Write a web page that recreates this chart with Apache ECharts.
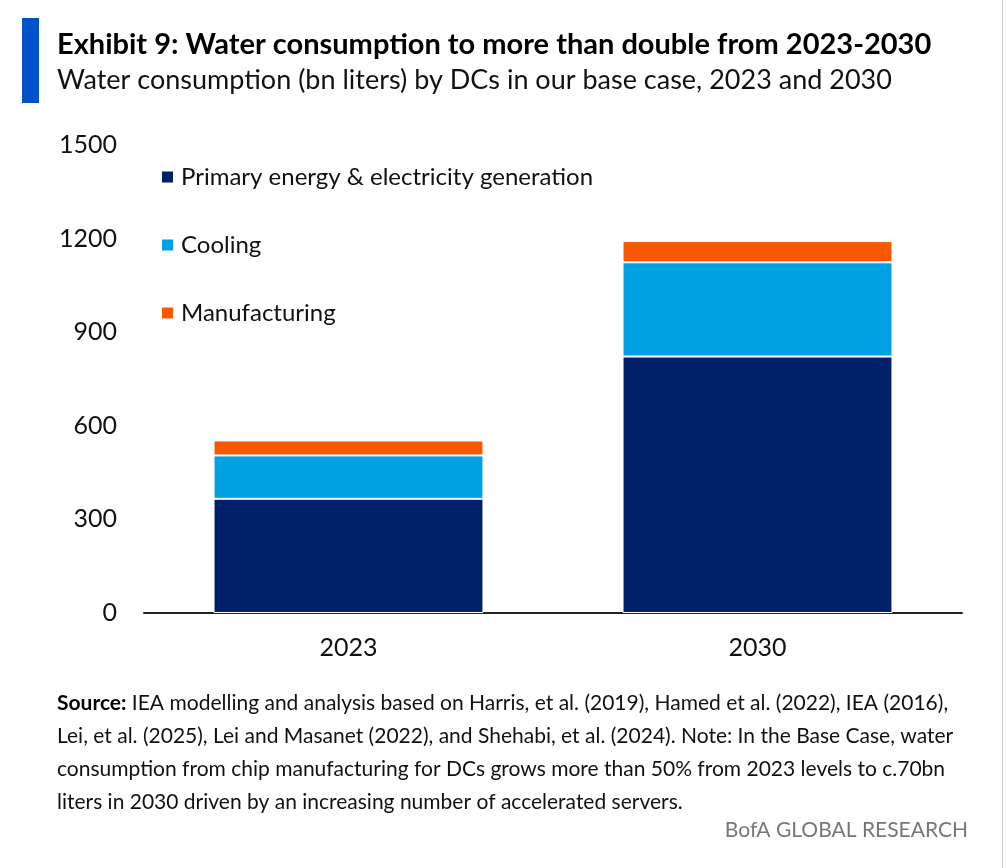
<!DOCTYPE html>
<html lang="en">
<head>
	<meta charset="UTF-8">
	<title>Exhibit 9</title>
	<style>
		html, body { margin: 0; padding: 0; background: #fff; }
		#main { width: 1006px; height: 868px; }
	</style>
</head>
<body>
	<div id="main"></div>
	<script src="https://cdn.jsdelivr.net/npm/echarts@6/dist/echarts.min.js"></script>
	<script>
		// values, bn liters
		var years = ['2023', '2030'];
		var primaryEnergy = [366, 822];
		var cooling = [139, 302];
		var manufacturing = [48, 68];
		var yTicks = { min: 0, max: 1500, interval: 300 };

		var FONT = "Lato, 'Liberation Sans', sans-serif";
		var NAVY = '#00216a', CYAN = '#00a0e3', ORANGE = '#f75800';

		var myChart = echarts.init(document.getElementById('main'));

		function bar(name, data, color) {
			return {
				name: name,
				type: 'bar',
				stack: 'water',
				data: data,
				barWidth: '66%',
				itemStyle: { color: color, borderColor: '#fff', borderWidth: 1 },
				emphasis: { disabled: true }
			};
		}

		var option = {
			backgroundColor: '#fff',
			animation: false,
			textStyle: { fontFamily: FONT },
			grid: { left: 144, right: 44, top: 145, bottom: 255 },
			legend: {
				orient: 'vertical',
				left: 155,
				top: 157,
				itemWidth: 13,
				itemHeight: 13,
				itemGap: 38,
				icon: 'rect',
				textStyle: { fontFamily: FONT, fontSize: 24, color: '#111', lineHeight: 30, padding: [0, 0, 0, 2] },
				data: ['Primary energy & electricity generation', 'Cooling', 'Manufacturing']
			},
			xAxis: {
				type: 'category',
				data: years,
				axisLine: { lineStyle: { color: '#222', width: 2 } },
				axisTick: { show: false },
				axisLabel: { fontFamily: FONT, fontSize: 25, color: '#111', margin: 22 }
			},
			yAxis: {
				type: 'value',
				min: yTicks.min,
				max: yTicks.max,
				interval: yTicks.interval,
				axisLine: { show: false },
				axisTick: { show: false },
				splitLine: { show: false },
				axisLabel: {
					fontFamily: FONT, fontSize: 25, color: '#111', margin: 27,
					formatter: function (v) { return String(v); }
				}
			},
			series: [
				bar('Primary energy & electricity generation', primaryEnergy, NAVY),
				bar('Cooling', cooling, CYAN),
				bar('Manufacturing', manufacturing, ORANGE)
			],
			graphic: [
				{ type: 'rect', left: 22, top: 18, shape: { width: 17, height: 85 }, style: { fill: '#0052cc' } },
				{
					type: 'text', left: 57, top: 30,
					style: { text: 'Exhibit 9: Water consumption to more than double from 2023-2030', fontFamily: FONT, fontSize: 29, fontWeight: 'bold', fill: '#000' }
				},
				{
					type: 'text', left: 57, top: 67,
					style: { text: 'Water consumption (bn liters) by DCs in our base case, 2023 and 2030', fontFamily: FONT, fontSize: 27, fill: '#111' }
				},
				{
					type: 'text', left: 57, top: 687,
					style: {
						text: '{b|Source:} IEA modelling and analysis based on Harris, et al. (2019), Hamed et al. (2022), IEA (2016),\n' +
							'Lei, et al. (2025), Lei and Masanet (2022), and Shehabi, et al. (2024). Note: In the Base Case, water\n' +
							'consumption from chip manufacturing for DCs grows more than 50% from 2023 levels to c.70bn\n' +
							'liters in 2030 driven by an increasing number of accelerated servers.',
						fontFamily: FONT, fontSize: 21, lineHeight: 33, fill: '#111',
						rich: { b: { fontFamily: FONT, fontSize: 21, fontWeight: 'bold', fill: '#000', lineHeight: 33 } }
					}
				},
				{
					type: 'text', right: 38, top: 820,
					style: { text: 'BofA GLOBAL RESEARCH', fontFamily: FONT, fontSize: 21, fill: '#777' }
				},
				{ type: 'rect', left: 1002, top: 0, shape: { width: 1, height: 868 }, style: { fill: '#ccc' } }
			]
		};
		myChart.setOption(option);
	</script>
</body>
</html>
